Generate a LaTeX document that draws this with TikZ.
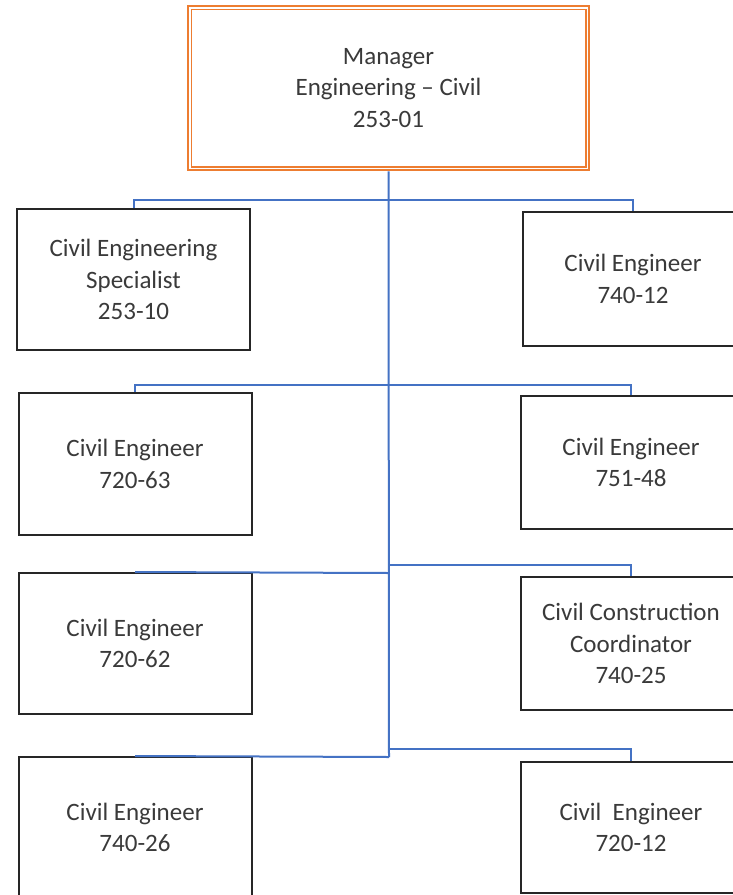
\documentclass[tikz,border=0pt]{standalone}
\usepackage{fontspec}
\setmainfont{Carlito}
\definecolor{txt}{HTML}{3A3A3A}
\definecolor{conn}{HTML}{4472C4}
\definecolor{orng}{HTML}{ED7D31}
\begin{document}
\begin{tikzpicture}[x=1pt,y=-1pt,
  every node/.style={font=\fontsize{25}{31.5}\selectfont, text=txt, align=center, inner sep=0pt},
  box/.style={draw=black!85, line width=2pt, rectangle},
  lbox/.style={box, minimum width=233pt, minimum height=141pt},
  rbox/.style={box, minimum width=220pt, minimum height=134pt},
  topbox/.style={draw=orng, line width=2.6pt, rectangle, minimum width=401pt, minimum height=164pt},
  link/.style={draw=conn, line width=2pt}]
\useasboundingbox (0,0) rectangle (733,895);
\fill[white] (0,0) rectangle (733,895);
\clip (0,0) rectangle (733,895);
% top
\node[topbox] (top) at (388.5,88) {Manager\\Engineering – Civil\\253-01};
\draw[orng, line width=1.4pt] ([shift={(4.5pt,-4.5pt)}]top.north west) rectangle ([shift={(-4.5pt,4.5pt)}]top.south east);
% left column
\node[lbox] (l1) at (133.5,279.5) {Civil Engineering\\Specialist\\253-10};
\node[lbox, minimum height=142pt] (l2) at (135,464) {Civil Engineer\\720-63};
\node[lbox] (l3) at (135,643.5) {Civil Engineer\\720-62};
\node[lbox] (l4) at (135,827.5) {Civil Engineer\\740-26};
% right column
\node[rbox] (r1) at (633,279) {Civil Engineer\\740-12};
\node[rbox, minimum height=133pt] (r2) at (631,462.5) {Civil Engineer\\751-48};
\node[rbox, minimum height=133pt] (r3) at (631,643.5) {Civil Construction\\Coordinator\\740-25};
\node[rbox, minimum height=131pt] (r4) at (631,827.5) {Civil\ \ Engineer\\720-12};
% connectors
\coordinate (t1) at (389,200);
\coordinate (t2) at (389,385);
\coordinate (t3r) at (389,565);
\coordinate (t3l) at (389,573);
\coordinate (t4r) at (389,749);
\coordinate (t4l) at (389,757);
\draw[link] (top.south) -- (t4l);
\draw[link] (t1) -| (l1.north);
\draw[link] (t1) -| (r1.north);
\draw[link] (t2) -| (l2.north);
\draw[link] (t2) -| (r2.north);
\draw[link] (t3l) -- (l3.north);
\draw[link] (t3r) -| (r3.north);
\draw[link] (t4l) -- (l4.north);
\draw[link] (t4r) -| (r4.north);
\end{tikzpicture}
\end{document}
